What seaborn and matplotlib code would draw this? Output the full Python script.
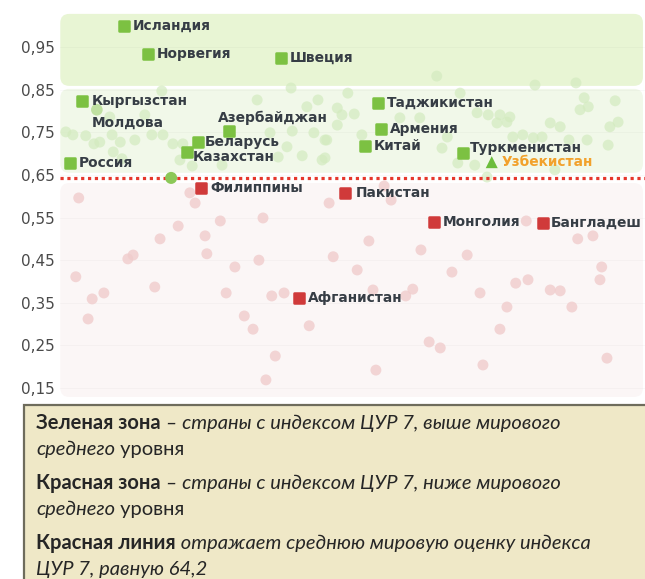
import numpy as np
import pandas as pd
import seaborn as sns
import matplotlib.pyplot as plt
from matplotlib.patches import FancyBboxPatch, Rectangle
from matplotlib.markers import MarkerStyle

# ---------------- data ----------------
# highlighted countries: horizontal slot, SDG 7 index (0..1), group
countries = ["Исландия", "Норвегия", "Швеция", "Кыргызстан", "Молдова",
             "Азербайджан", "Беларусь", "Казахстан", "Россия",
             "Таджикистан", "Армения", "Китай", "Туркменистан", "Узбекистан",
             "Филиппины", "Пакистан", "Монголия", "Бангладеш", "Афганистан"]
country_x = [10.9, 15.0, 37.8, 3.8, 6.3,
             28.9, 23.6, 21.7, 1.7,
             54.4, 54.9, 52.1, 68.9, 73.8,
             24.1, 48.7, 63.9, 82.6, 40.9]
country_val = [1.000, 0.934, 0.925, 0.824, 0.803,
               0.753, 0.727, 0.704, 0.678,
               0.819, 0.758, 0.718, 0.702, 0.680,
               0.619, 0.608, 0.540, 0.537, 0.361]
country_group = ["above", "above", "above", "above", "faded",
                 "above", "above", "above", "above",
                 "above", "above", "above", "above", "uzb",
                 "below", "below", "below", "below", "below"]

# unlabeled country just above the world average
extra_x = [19.0]
extra_val = [0.643]

# other countries above the world average
above_x = [64.4, 81.2, 88.2, 17.4, 33.7, 39.5, 44.1, 8.5, 14.5, 1.0, 2.2, 4.4,
           5.8, 6.8, 8.9, 10.3, 12.8, 15.7, 17.6, 19.3, 21.0, 9.1, 10.6, 20.5,
           22.6, 27.7, 35.9, 37.3, 38.8, 39.7, 41.4, 42.2, 43.4, 45.3, 44.8,
           49.2, 68.4, 89.6, 94.9, 47.4, 50.3, 48.2, 71.3, 73.2, 75.2, 76.9,
           58.1, 61.5, 88.9, 90.3, 47.4, 83.8, 85.5, 76.4, 74.7, 94.0, 95.4,
           51.6, 77.4, 79.1, 80.9, 82.4, 87.0, 90.1, 93.7, 45.6, 66.2, 45.3,
           65.3, 68.0, 70.9, 84.6, 73.0]
above_val = [0.882, 0.861, 0.866, 0.847, 0.826, 0.854, 0.826, 0.786, 0.791,
             0.751, 0.744, 0.742, 0.723, 0.727, 0.744, 0.727, 0.732, 0.744,
             0.744, 0.723, 0.723, 0.704, 0.688, 0.685, 0.671, 0.673, 0.749,
             0.692, 0.716, 0.753, 0.695, 0.810, 0.749, 0.732, 0.685, 0.842,
             0.842, 0.831, 0.824, 0.807, 0.793, 0.791, 0.796, 0.791, 0.791,
             0.786, 0.784, 0.784, 0.803, 0.810, 0.767, 0.772, 0.763, 0.774,
             0.772, 0.763, 0.774, 0.744, 0.739, 0.744, 0.737, 0.739, 0.732,
             0.732, 0.720, 0.732, 0.739, 0.690, 0.713, 0.678, 0.673, 0.662,
             0.645]

# other countries below the world average
below_x = [3.2, 2.7, 5.5, 4.8, 7.5, 11.6, 12.5, 16.2, 17.1, 20.2, 22.2, 23.1,
           24.8, 25.1, 27.4, 28.4, 29.9, 31.5, 33.0, 34.0, 34.7, 36.2, 36.8,
           35.2, 38.3, 42.6, 46.0, 55.4, 56.6, 52.8, 46.7, 50.8, 53.5, 60.3,
           59.1, 61.7, 67.0, 69.6, 63.1, 65.0, 54.0, 72.3, 71.8, 75.2, 76.4,
           77.9, 80.0, 79.7, 83.8, 85.5, 87.5, 88.5, 91.1, 92.6, 92.3, 93.5]
below_val = [0.596, 0.411, 0.359, 0.312, 0.373, 0.453, 0.462, 0.387, 0.500,
             0.530, 0.608, 0.584, 0.507, 0.465, 0.542, 0.373, 0.434, 0.319,
             0.288, 0.450, 0.549, 0.366, 0.225, 0.169, 0.373, 0.296, 0.584,
             0.624, 0.591, 0.495, 0.458, 0.427, 0.380, 0.382, 0.366, 0.474,
             0.422, 0.462, 0.258, 0.244, 0.192, 0.204, 0.373, 0.288, 0.340,
             0.396, 0.404, 0.542, 0.380, 0.378, 0.340, 0.500, 0.507, 0.434,
             0.404, 0.220]

world_avg = 0.642
y_ticks = [0.15, 0.25, 0.35, 0.45, 0.55, 0.65, 0.75, 0.85, 0.95]
y_tick_labels = ["0,15", "0,25", "0,35", "0,45", "0,55", "0,65", "0,75", "0,85", "0,95"]

# ---------------- styling ----------------
W, H = 645, 579
GREEN = "#7cc142"
RED = "#d03a3a"
TXT = "#363d45"
ORANGE = "#f2a12c"

sns.set_theme(style="white")
plt.rcParams["font.family"] = ["DejaVu Sans"]

fig = plt.figure(figsize=(W / 100, H / 100), dpi=100)
fig.patch.set_facecolor("white")
ax = fig.add_axes([60 / W, 1 - 400 / H, 585 / W, 392 / H])
ax.set_xlim(0, 100)
ax.set_ylim(0.1218, 1.0418)
ax.set_facecolor("none")
for s in ax.spines.values():
    s.set_visible(False)

# rounded zone backgrounds (aspect-corrected so corners stay circular)
ax_w_px = 585
ax_h_px = 392
px_x = 100 / ax_w_px
px_y = (1.0418 - 0.1218) / ax_h_px
asp = px_y / px_x
r = 9 * px_x


def zone(y0, y1, color, z=0):
    p = FancyBboxPatch((0.05, y0), 99.6, y1 - y0,
                       boxstyle=f"round,pad=0,rounding_size={r}",
                       mutation_aspect=asp, facecolor=color, edgecolor="none",
                       zorder=z)
    ax.add_patch(p)


zone(world_avg + 0.217, 1.028, "#e8f5d4")
zone(world_avg + 0.013, world_avg + 0.210, "#f1f8e9")
zone(0.129, world_avg - 0.011, "#fbf6f6")

# faint horizontal guides
for t in y_ticks:
    ax.axhline(t, color="#000000", alpha=0.022, lw=0.8, zorder=0.5)

# background countries
bg_above = pd.DataFrame({"x": above_x, "v": above_val})
bg_below = pd.DataFrame({"x": below_x, "v": below_val})
sns.scatterplot(data=bg_above, x="x", y="v", ax=ax, color="#d3ebbf", alpha=0.7,
                s=62, edgecolor="none", zorder=1, legend=False)
sns.scatterplot(data=bg_below, x="x", y="v", ax=ax, color="#f0cccc", alpha=0.8,
                s=62, edgecolor="none", zorder=1, legend=False)

# world average line
ax.axhline(world_avg, color="#e5372c", lw=2.3, linestyle=(0, (1, 1.15)), zorder=2)

# highlighted countries
df = pd.DataFrame({"name": countries, "x": country_x, "v": country_val,
                   "group": country_group})
sq = MarkerStyle("s", joinstyle="round")
sns.scatterplot(data=df[df.group == "above"], x="x", y="v", ax=ax, marker=sq,
                color=GREEN, s=50, edgecolor=GREEN, linewidth=1.8, zorder=4,
                legend=False)
sns.scatterplot(data=df[df.group == "below"], x="x", y="v", ax=ax, marker=sq,
                color=RED, s=50, edgecolor=RED, linewidth=1.8, zorder=4,
                legend=False)
sns.scatterplot(data=df[df.group == "faded"], x="x", y="v", ax=ax,
                color="#bfe0a0", s=70, edgecolor="none", zorder=3, legend=False)
sns.scatterplot(data=df[df.group == "uzb"], x="x", y="v", ax=ax, marker="^",
                color="#6cbd3c", s=75, edgecolor="none", zorder=4, legend=False)
sns.scatterplot(x=extra_x, y=extra_val, ax=ax, color="#8cc858", s=75,
                edgecolor="none", zorder=3, legend=False)

# label offsets in points (default: right of marker)
offsets = {"Молдова": (-3.6, -9.4), "Азербайджан": (-8.0, 9.4),
           "Туркменистан": (5.0, 3.6), "Узбекистан": (7.0, 0.0),
           "Казахстан": (4.5, -3.6), "Беларусь": (5.0, 0.0),
           "Кыргызстан": (7.0, 0.0), "Пакистан": (7.5, 0.0),
           "Бангладеш": (5.5, 0.0)}
for _, row in df.iterrows():
    dx, dy = offsets.get(row["name"], (6.5, 0.0))
    ax.annotate(row["name"], (row["x"], row["v"]), xytext=(dx, dy),
                textcoords="offset points", ha="left", va="center",
                fontsize=9.9, fontweight="bold",
                color=ORANGE if row["group"] == "uzb" else TXT, zorder=5)

ax.set_xticks([])
ax.set_yticks(y_ticks)
ax.set_yticklabels(y_tick_labels)
ax.tick_params(axis="y", length=0, pad=4, labelsize=11, labelcolor="#4a4a4a")
ax.set_xlabel("")
ax.set_ylabel("")

# ---------------- explanation box ----------------
box = Rectangle((24 / W, -0.01), 1 - 24 / W + 0.01, 1 - 405 / H + 0.01,
                transform=fig.transFigure, facecolor="#efe8c7",
                edgecolor="#6e6c5c", lw=1.6, zorder=0, clip_on=False)
fig.patches.append(box)

renderer = fig.canvas.get_renderer()
LEG_FONT = ["Lato", "DejaVu Sans"]
LEG_SIZE = 14.5


def rich_line(x_px, y_px, parts):
    x = x_px
    for text, style in parts:
        kw = dict(fontsize=LEG_SIZE, color="#262626", family=LEG_FONT,
                  ha="left", va="center")
        if style == "b":
            kw["fontweight"] = "bold"
        elif style == "i":
            kw["fontstyle"] = "italic"
        t = fig.text(x / W, 1 - y_px / H, text, **kw)
        x += t.get_window_extent(renderer).width


rich_line(36, 423, [("Зеленая зона", "b"),
                    (" – страны с индексом ЦУР 7, выше мирового", "i")])
rich_line(36, 449, [("среднего", "i"), (" уровня", "n")])
rich_line(36, 483, [("Красная зона", "b"),
                    (" – страны с индексом ЦУР 7, ниже мирового", "i")])
rich_line(36, 509, [("среднего", "i"), (" уровня", "n")])
rich_line(36, 543, [("Красная линия", "b"),
                    (" отражает среднюю мировую оценку индекса", "i")])
rich_line(36, 569, [("ЦУР 7, равную 64,2", "i")])

fig.savefig("out.png", dpi=100)
